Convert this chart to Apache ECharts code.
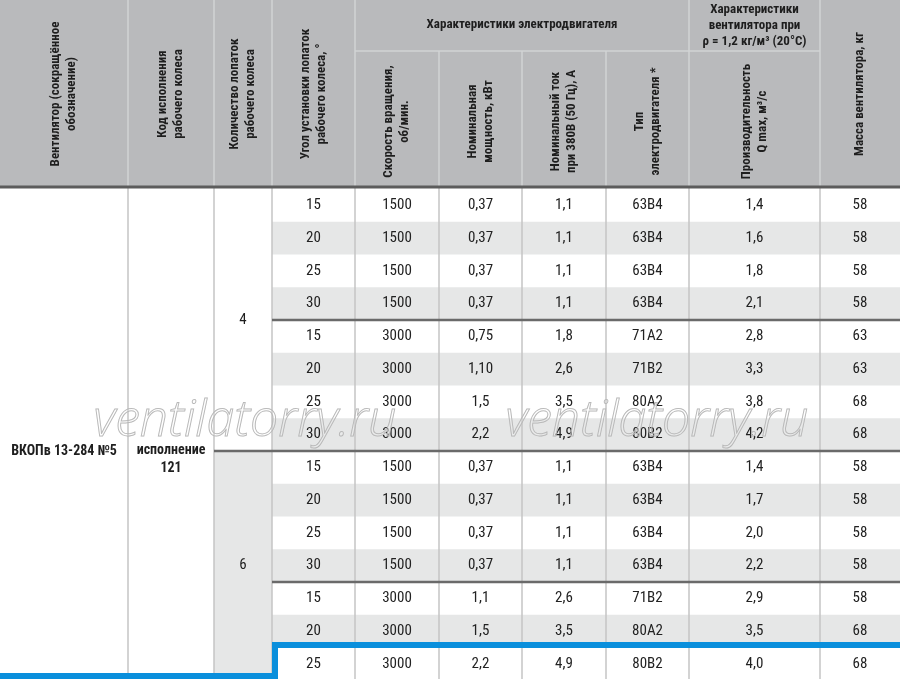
<!DOCTYPE html>
<html>
<head>
<meta charset="utf-8">
<script src="https://cdn.jsdelivr.net/npm/echarts@6/dist/echarts.min.js"></script>
<style>
  html, body { margin: 0; padding: 0; background: #fff; }
  #chart { width: 900px; height: 679px; }
</style>
</head>
<body>
<div id="chart"></div>
<script>
// table data
const angles  = [15, 20, 25, 30, 15, 20, 25, 30, 15, 20, 25, 30, 15, 20, 25];
const speeds  = [1500, 1500, 1500, 1500, 3000, 3000, 3000, 3000, 1500, 1500, 1500, 1500, 3000, 3000, 3000];
const powers  = ['0,37', '0,37', '0,37', '0,37', '0,75', '1,10', '1,5', '2,2', '0,37', '0,37', '0,37', '0,37', '1,1', '1,5', '2,2'];
const currents = ['1,1', '1,1', '1,1', '1,1', '1,8', '2,6', '3,5', '4,9', '1,1', '1,1', '1,1', '1,1', '2,6', '3,5', '4,9'];
const motors  = ['63B4', '63B4', '63B4', '63B4', '71A2', '71B2', '80A2', '80B2', '63B4', '63B4', '63B4', '63B4', '71B2', '80A2', '80B2'];
const flows   = ['1,4', '1,6', '1,8', '2,1', '2,8', '3,3', '3,8', '4,2', '1,4', '1,7', '2,0', '2,2', '2,9', '3,5', '4,0'];
const masses  = [58, 58, 58, 58, 63, 63, 68, 68, 58, 58, 58, 58, 58, 68, 68];
const bladeCounts = ['4', '6'];
const fanName = 'ВКОПв 13-284 №5';
const impellerCode = 'исполнение\n121';

const headers = [
    'Вентилятор (сокращённое\nобозначение)',
    'Код исполнения\nрабочего колеса',
    'Количество лопаток\nрабочего колеса',
    'Угол установки лопаток\nрабочего колеса, °',
    'Скорость вращения,\nоб/мин.',
    'Номинальная\nмощность, кВт',
    'Номинальный ток\nпри 380В (50 Гц), А',
    'Тип\nэлектродвигателя *',
    'Производительность\nQ max, м³/с',
    'Масса вентилятора, кг'
];
const groupHeaders = ['Характеристики электродвигателя', 'Характеристики\nвентилятора при\nρ = 1,2 кг/м³ (20°C)'];

// layout
const colEdges = [0, 128, 214, 272, 355, 439, 522, 606, 689, 820, 900];
const headTop = 0, subTop = 51, headBottom = 188;
const rowH = 32.75;
const rowTop = r => headBottom + 1 + r * rowH;
const FONT = '"Liberation Sans Narrow", "Roboto Condensed", Roboto, sans-serif';
const HEADER_BG = '#b9babc';
const ALT_BG = '#e6e7e7';
const BLUE = '#0a8fdc';

const bodyCols = [angles, speeds, powers, currents, motors, flows, masses];
const cellData = [];
angles.forEach((_, r) => {
    bodyCols.forEach((col, c) => cellData.push([c + 3, r, String(col[r])]));
});

const chart = echarts.init(document.getElementById('chart'), null, { renderer: 'canvas' });

function px(api, x, y) { return api.coord([x, y]); }

function renderBackground(params, api) {
    const kids = [];
    const rect = (x0, y0, x1, y1, fill) => {
        const a = px(api, x0, y0), b = px(api, x1, y1);
        kids.push({ type: 'rect', shape: { x: a[0], y: a[1], width: b[0] - a[0], height: b[1] - a[1] }, style: { fill: fill } });
    };
    const line = (x0, y0, x1, y1, stroke, w) => {
        const a = px(api, x0, y0), b = px(api, x1, y1);
        kids.push({ type: 'line', shape: { x1: a[0], y1: a[1], x2: b[0], y2: b[1] }, style: { stroke: stroke, lineWidth: w } });
    };
    // header
    rect(0, headTop, 900, headBottom, HEADER_BG);
    // striped rows
    angles.forEach((_, r) => {
        if (r % 2 === 1) rect(colEdges[3], rowTop(r), 900, rowTop(r + 1), ALT_BG);
    });
    // merged blade-count cell for second group
    rect(colEdges[2], rowTop(8), colEdges[3], 679, ALT_BG);
    // vertical body lines
    colEdges.slice(1, -1).forEach(x => line(x, headBottom, x, 679, '#c4c4c4', 1.5));
    // vertical header lines
    [128, 214, 272, 355, 689, 820].forEach(x => line(x, 0, x, headBottom, '#d2d3d4', 1.5));
    [439, 522, 606].forEach(x => line(x, subTop, x, headBottom, '#d2d3d4', 1.5));
    line(355, subTop, 820, subTop, '#d2d3d4', 1.5);
    // header bottom rule
    line(0, headBottom - 1, 900, headBottom - 1, '#5c5c5c', 3);
    // group rules
    line(colEdges[3], rowTop(4), 900, rowTop(4), '#6a6a6a', 2.5);
    line(colEdges[2], rowTop(8), 900, rowTop(8), '#6a6a6a', 2.5);
    line(colEdges[3], rowTop(12), 900, rowTop(12), '#6a6a6a', 2.5);
    // blue highlight outline
    const p = [[0, 676], [275, 676], [275, 645], [900, 645]].map(q => px(api, q[0], q[1]));
    kids.push({ type: 'polyline', shape: { points: p }, style: { stroke: BLUE, lineWidth: 6, fill: null } });
    return { type: 'group', children: kids };
}

function renderHeader(params, api) {
    const kids = [];
    const addText = (cx, cy, text, rot) => {
        const a = px(api, cx, cy);
        kids.push({
            type: 'text', x: a[0], y: a[1], rotation: rot ? Math.PI / 2 : 0,
            style: { text: text, font: 'bold 13px ' + FONT, fill: '#1e1e1e', align: 'center', verticalAlign: 'middle', lineHeight: 16 }
        });
    };
    headers.forEach((h, i) => {
        const cx = (colEdges[i] + colEdges[i + 1]) / 2;
        const sub = i >= 4 && i <= 8;
        addText(cx, sub ? (subTop + headBottom) / 2 + 2 : headBottom / 2, h, true);
    });
    addText((355 + 689) / 2, 25, groupHeaders[0], false);
    addText((689 + 820) / 2, 26, groupHeaders[1], false);
    return { type: 'group', children: kids };
}

function renderCell(params, api) {
    const c = api.value(0), r = api.value(1);
    const cx = (colEdges[c] + colEdges[c + 1]) / 2;
    const a = px(api, cx, rowTop(r) + rowH / 2);
    return {
        type: 'text', x: a[0], y: a[1],
        style: { text: cellData[params.dataIndex][2], font: '15px ' + FONT, fill: '#222', align: 'center', verticalAlign: 'middle' }
    };
}

function renderMerged(params, api) {
    const kids = [];
    const t = (x, y, text, bold) => {
        const a = px(api, x, y);
        kids.push({ type: 'text', x: a[0], y: a[1], style: { text: text, font: (bold ? 'bold 14px ' : '15px ') + FONT, fill: '#1e1e1e', align: 'center', verticalAlign: 'middle', lineHeight: 18 } });
    };
    t(64, rowTop(8), fanName, true);
    t(171, rowTop(8) + 8, impellerCode, true);
    t(243, rowTop(4), bladeCounts[0], false);
    t(243, rowTop(11) + rowH / 2, bladeCounts[1], false);
    // watermark
    [[245, 422], [657, 422]].forEach(q => {
        const a = px(api, q[0], q[1]);
        kids.push({ type: 'text', x: a[0], y: a[1], z2: 10, style: { text: 'ventilatorry.ru', font: 'italic 300 50px "Open Sans", sans-serif', fill: 'rgba(255,255,255,0.15)', stroke: '#b4b4b4', lineWidth: 1, align: 'center', verticalAlign: 'middle' } });
    });
    return { type: 'group', children: kids };
}

chart.setOption({
    animation: false,
    grid: { left: 0, right: 0, top: 0, bottom: 0 },
    xAxis: { type: 'value', min: 0, max: 900, show: false },
    yAxis: { type: 'value', min: 0, max: 679, inverse: true, show: false },
    series: [
        { type: 'custom', renderItem: renderBackground, data: [[0, 0]], z: 1, silent: true },
        { type: 'custom', renderItem: renderHeader, data: [[0, 0]], z: 2, silent: true },
        { type: 'custom', renderItem: renderCell, data: cellData, z: 3, silent: true, clip: false },
        { type: 'custom', renderItem: renderMerged, data: [[0, 0]], z: 4, silent: true }
    ]
});
</script>
</body>
</html>
